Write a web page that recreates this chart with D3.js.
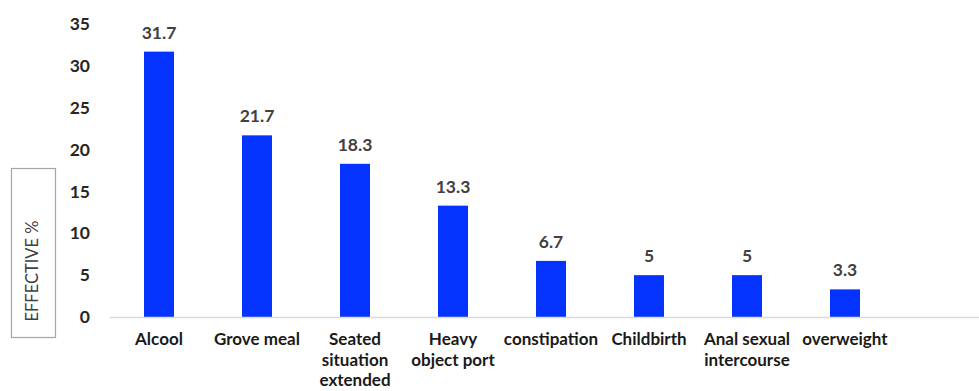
<!DOCTYPE html>
<html>
<head>
<meta charset="utf-8">
<script src="https://cdn.jsdelivr.net/npm/d3@7"></script>
<style>
  html, body { margin: 0; padding: 0; background: #ffffff; }
  svg { display: block; }
  text { font-family: Lato, "Open Sans", sans-serif; }
</style>
</head>
<body>
<svg id="chart" width="979" height="391"></svg>
<script>
// Risk factors and their share (%)
const categories = [
  ["Alcool"],
  ["Grove meal"],
  ["Seated", "situation", "extended"],
  ["Heavy", "object port"],
  ["constipation"],
  ["Childbirth"],
  ["Anal sexual", "intercourse"],
  ["overweight"]
];
const values = [31.7, 21.7, 18.3, 13.3, 6.7, 5, 5, 3.3];
const yTicks = [0, 5, 10, 15, 20, 25, 30, 35];
const yLabel = "EFFECTIVE %";

const W = 979, H = 391;
const plot = { left: 110, right: 894, top: 24, bottom: 317 };

const svg = d3.select("#chart");

const keys = categories.map((c, i) => i);
const x = d3.scaleBand()
  .domain(keys)
  .range([plot.left, plot.right])
  .paddingInner(0.694)
  .paddingOuter(0.347);

const y = d3.scaleLinear()
  .domain([0, 35])
  .range([plot.bottom, plot.top]);

// Y axis: labels only, no line or ticks
const yAxis = svg.append("g")
  .attr("transform", `translate(${plot.left - 20},0)`)
  .call(d3.axisLeft(y).tickValues(yTicks).tickSize(0).tickPadding(0));
yAxis.select(".domain").remove();
yAxis.selectAll("text")
  .attr("font-family", "Lato, 'Open Sans', sans-serif")
  .attr("font-size", 17.5)
  .attr("font-weight", 700)
  .attr("fill", "#262626");

// Bars
svg.append("g").selectAll("rect")
  .data(values)
  .join("rect")
  .attr("x", (d, i) => x(i))
  .attr("y", d => y(d))
  .attr("width", x.bandwidth())
  .attr("height", d => y(0) - y(d))
  .attr("fill", "#0433ff");

// Baseline across the plot
svg.append("line")
  .attr("x1", plot.left)
  .attr("x2", W)
  .attr("y1", y(0) + 0.5)
  .attr("y2", y(0) + 0.5)
  .attr("stroke", "#d9d9d9")
  .attr("stroke-width", 1.5);

// Value labels above the bars
svg.append("g").selectAll("text")
  .data(values)
  .join("text")
  .attr("x", (d, i) => x(i) + x.bandwidth() / 2)
  .attr("y", d => y(d) - 13)
  .attr("text-anchor", "middle")
  .attr("font-size", 17.5)
  .attr("font-weight", 700)
  .attr("fill", "#404040")
  .text(d => d);

// Category labels, wrapped onto several lines
const xLabels = svg.append("g").selectAll("text")
  .data(categories)
  .join("text")
  .attr("x", (d, i) => x(i) + x.bandwidth() / 2)
  .attr("y", y(0) + 28)
  .attr("text-anchor", "middle")
  .attr("font-size", 17)
  .attr("font-weight", 700)
  .attr("fill", "#1a1a1a");
xLabels.selectAll("tspan")
  .data(d => d)
  .join("tspan")
  .attr("x", function () { return d3.select(this.parentNode).attr("x"); })
  .attr("dy", (d, i) => i === 0 ? 0 : 20.5)
  .text(d => d);

// Boxed y-axis title
const box = { x: 11.5, y: 168.5, w: 44, h: 169 };
svg.append("rect")
  .attr("x", box.x).attr("y", box.y)
  .attr("width", box.w).attr("height", box.h)
  .attr("fill", "none")
  .attr("stroke", "#a6a6a6")
  .attr("stroke-width", 1.2);
svg.append("text")
  .attr("transform", `translate(${box.x + box.w / 2 + 4},${271}) rotate(-90)`)
  .attr("text-anchor", "middle")
  .attr("font-size", 16.5)
  .attr("fill", "#404040")
  .text(yLabel);
</script>
</body>
</html>
